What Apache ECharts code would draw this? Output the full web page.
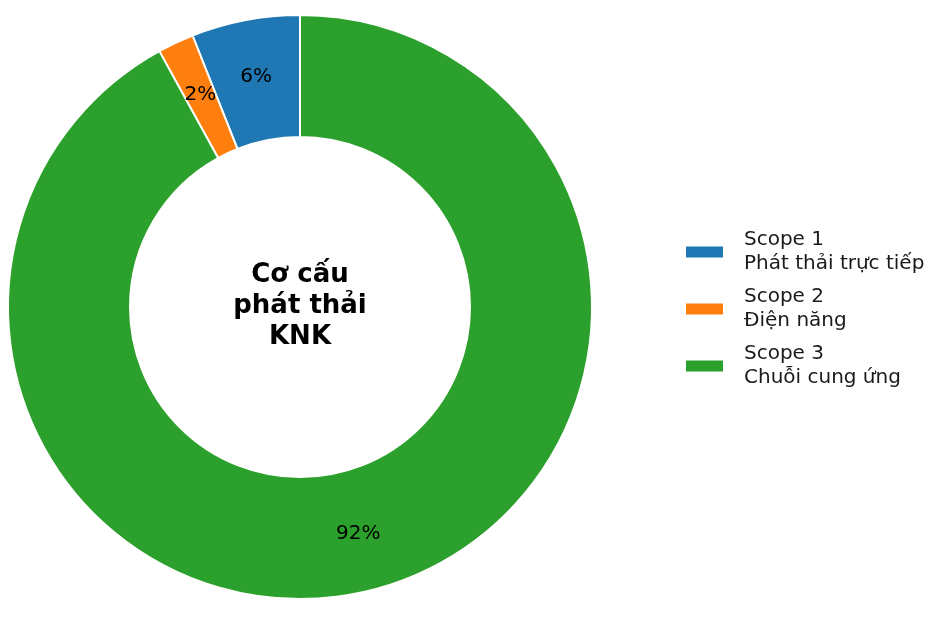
<!DOCTYPE html>
<html>
<head>
<meta charset="utf-8">
<script src="https://cdn.jsdelivr.net/npm/echarts@6/dist/echarts.min.js"></script>
<style>
  html, body { margin: 0; padding: 0; background: #fff; }
  #main { width: 936px; height: 618px; }
</style>
</head>
<body>
<div id="main"></div>
<script>
// du lieu
var scopes = ['Scope 1', 'Scope 2', 'Scope 3'];
var scopeNames = ['Phát thải trực tiếp', 'Điện năng', 'Chuỗi cung ứng'];
var shares = [6, 2, 92];
var colors = ['#1f77b4', '#ff7f0e', '#2ca02c'];
var centerText = 'Cơ cấu\nphát thải\nKNK';

var font = 'DejaVu Sans';
var chart = echarts.init(document.getElementById('main'));

var data = scopes.map(function (s, i) {
  return { name: s + '\n' + scopeNames[i], value: shares[i] };
});

chart.setOption({
  color: colors,
  animation: false,
  legend: {
    orient: 'vertical',
    left: 679,
    top: 'middle',
    itemWidth: 39,
    itemHeight: 13,
    itemGap: 9,
    icon: 'rect',
    textStyle: { fontFamily: font, fontSize: 20, lineHeight: 24, color: '#1a1a1a', padding: [0, 0, 0, 15] },
    data: data.map(function (d) { return d.name; })
  },
  graphic: [{
    type: 'text',
    x: 300,
    y: 306,
    style: {
      text: centerText,
      fontFamily: font,
      fontSize: 26,
      fontWeight: 'bold',
      lineHeight: 31,
      fill: '#000',
      textAlign: 'center',
      textVerticalAlign: 'middle'
    }
  }],
  series: [{
    type: 'pie',
    center: [300, 307],
    radius: [170, 292],
    startAngle: 90,
    clockwise: false,
    avoidLabelOverlap: false,
    itemStyle: { borderColor: '#fff', borderWidth: 2 },
    label: {
      show: true,
      position: 'inside',
      fontFamily: font,
      fontSize: 20,
      color: '#000',
      formatter: function (p) { return Math.round(p.percent) + '%'; }
    },
    labelLine: { show: false },
    emphasis: { disabled: true },
    data: data
  }]
});
</script>
</body>
</html>
